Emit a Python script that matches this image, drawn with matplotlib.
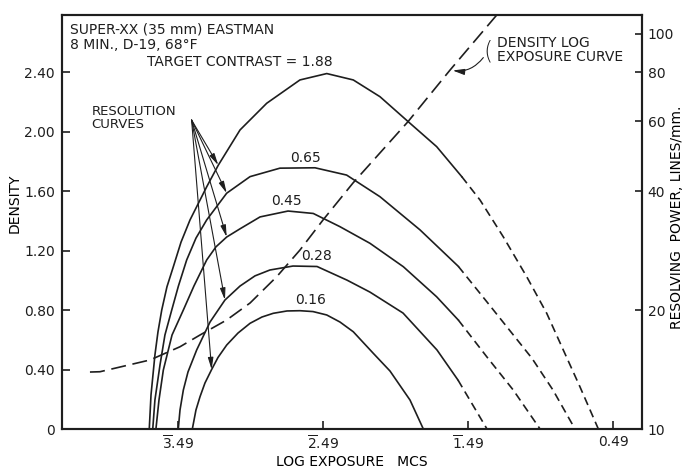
import numpy as np
import matplotlib.pyplot as plt

# density vs log exposure (dashed curve, left axis)
log_exp = [-3.117, -3.048, -2.703, -2.496, -2.358, -2.174, -2.013, -1.829,
           -1.669, -1.51, -1.303, -0.924, -0.634, -0.312, -0.28]
density = [0.383, 0.385, 0.464, 0.553, 0.632, 0.733, 0.847, 1.024,
           1.203, 1.405, 1.654, 2.066, 2.413, 2.783, 2.82]

# resolution curves (right axis, lines/mm) for each target contrast
contrast = ['1.88', '0.65', '0.45', '0.28', '0.16']
res_x = [
    [-2.708, -2.696, -2.669, -2.648, -2.622, -2.586, -2.542, -2.489, -2.427, -2.312, -2.232, -2.082,
     -1.898, -1.669, -1.484, -1.301, -1.117, -0.922, -0.726, -0.553, -0.427, -0.267, -0.105, 0.033,
     0.147, 0.262, 0.389],
    [-2.684, -2.669, -2.634, -2.600, -2.553, -2.507, -2.450, -2.386, -2.312, -2.174, -2.013, -1.807,
     -1.565, -1.347, -1.117, -0.841, -0.577, -0.358, -0.069, 0.076, 0.228],
    [-2.662, -2.641, -2.611, -2.551, -2.473, -2.400, -2.312, -2.248, -2.174, -2.082, -1.944, -1.751,
     -1.577, -1.393, -1.186, -0.956, -0.726, -0.577, -0.381, -0.198, -0.013],
    [-2.508, -2.496, -2.473, -2.441, -2.381, -2.289, -2.186, -2.082, -1.979, -1.876, -1.717, -1.551,
     -1.344, -1.186, -0.958, -0.724, -0.579, -0.379],
    [-2.411, -2.386, -2.358, -2.324, -2.278, -2.234, -2.174, -2.096, -2.013, -1.931, -1.853, -1.758,
     -1.669, -1.579, -1.484, -1.393, -1.301, -1.163, -1.048, -0.910, -0.818],
]
res_lpmm = [
    [10.0, 12.19, 15.39, 17.6, 20.0, 22.9, 25.74, 29.7, 33.8, 41.0, 46.5, 57.1,
     66.7, 76.4, 79.3, 76.4, 69.3, 59.9, 51.8, 43.5, 37.96, 30.65, 24.28, 19.62,
     15.85, 12.79, 10.0],
    [10.0, 11.84, 14.52, 17.29, 20.0, 23.0, 26.77, 30.4, 33.8, 39.5, 43.5, 45.7,
     45.8, 43.9, 38.7, 31.9, 25.8, 20.5, 15.1, 12.55, 10.0],
    [10.0, 11.84, 14.10, 17.29, 20.0, 23.0, 26.77, 28.9, 30.6, 32.1, 34.4, 35.6,
     35.1, 32.5, 29.5, 25.74, 21.6, 18.87, 15.24, 12.55, 10.0],
    [10.0, 11.17, 12.55, 13.94, 15.85, 18.65, 21.2, 23.0, 24.4, 25.25, 25.84, 25.77,
     23.8, 22.2, 19.65, 15.85, 13.3, 10.0],
    [10.0, 11.17, 12.07, 13.07, 14.14, 15.17, 16.31, 17.49, 18.51, 19.2, 19.62, 19.89,
     19.92, 19.82, 19.43, 18.65, 17.62, 15.54, 14.02, 11.84, 10.0],
]
dash_from = [-0.553, -0.577, -0.577, -0.579, None]   # extrapolated part
arrow_idx = [10, 9, 8, 6, 4]

xticks = [-2.51, -1.51, -0.51, 0.49]
xticklabels = [r'$\overline{3}$.49', r'$\overline{2}$.49', r'$\overline{1}$.49', '0.49']
dens_ticks = [0, 0.4, 0.8, 1.2, 1.6, 2.0, 2.4]
dens_labels = ['0', '0.40', '0.80', '1.20', '1.60', '2.00', '2.40']
rp_ticks = [10, 20, 40, 60, 80, 100]

ink = '#1e1e1e'
plt.rcParams['font.family'] = ['DejaVu Sans']
plt.rcParams['font.size'] = 10
plt.rcParams['text.color'] = ink

fig = plt.figure(figsize=(6.84, 4.72), dpi=100)
ax = fig.add_axes([0.0906, 0.0911, 0.848, 0.877])
ax2 = ax.twinx()

ax.set_xlim(-3.31, 0.69)
ax.set_ylim(0, 2.783)
ax2.set_yscale('log')
ax2.set_ylim(10, 111.5)

# density / log exposure curve
ax.plot(log_exp, density, color=ink, lw=1.2, dashes=(9, 4))

# resolution curves
for i, lab in enumerate(contrast):
    x = np.array(res_x[i])
    v = np.array(res_lpmm[i])
    if dash_from[i] is None:
        ax2.plot(x, v, color=ink, lw=1.2)
    else:
        s = x <= dash_from[i] + 1e-9
        d = x >= dash_from[i] - 1e-9
        ax2.plot(x[s], v[s], color=ink, lw=1.2)
        ax2.plot(x[d], v[d], color=ink, lw=1.2, dashes=(5, 3))

# peak labels
k = int(np.argmax(res_lpmm[0]))
ax2.annotate('TARGET CONTRAST = ' + contrast[0], (res_x[0][k], res_lpmm[0][k]),
             xytext=(4, 8), textcoords='offset points', ha='right', va='center')
offs = [None, (-7, 7), (-1, 7), (17, 7), (8, 8)]
for i in range(1, 5):
    k = int(np.argmax(res_lpmm[i]))
    ax2.annotate(contrast[i], (res_x[i][k], res_lpmm[i][k]), xytext=offs[i],
                 textcoords='offset points', ha='center', va='center')

# "resolution curves" pointer arrows
apex = (-2.416, 2.077)
for i, j in enumerate(arrow_idx):
    ax2.annotate('', xy=(res_x[i][j], res_lpmm[i][j]), xytext=apex, textcoords=ax.transData,
                 arrowprops=dict(arrowstyle='-|>,head_length=0.7,head_width=0.16',
                                 color=ink, lw=0.8, shrinkA=0, shrinkB=0))
ax.text(0.0512, 0.7516, 'RESOLUTION\nCURVES', transform=ax.transAxes, va='center', ha='left',
        fontsize=9.5, linespacing=0.95)

# density curve label
ax.annotate('', xy=(log_exp[12], density[12]), xytext=(24, 9), textcoords='offset points',
            arrowprops=dict(arrowstyle='-|>,head_length=0.7,head_width=0.18', color=ink,
                            lw=0.8, shrinkA=0, shrinkB=2, connectionstyle='arc3,rad=-0.3'))
ax.text(0.734, 0.913, '(', transform=ax.transAxes, va='center', ha='center', fontsize=17,
        fontweight='light')
ax.text(0.7495, 0.9155, 'DENSITY LOG\nEXPOSURE CURVE', transform=ax.transAxes, va='center',
        ha='left', linespacing=1.05)

# film notes
ax.text(0.0138, 0.964, 'SUPER-XX (35 mm) EASTMAN', transform=ax.transAxes, va='center')
ax.text(0.0138, 0.9275, '8 MIN., D-19, 68°F', transform=ax.transAxes, va='center')

# axes styling
ax.set_xticks(xticks)
ax.set_xticklabels(xticklabels)
ax.set_yticks(dens_ticks)
ax.set_yticklabels(dens_labels)
ax2.set_yticks(rp_ticks)
ax2.set_yticklabels([str(t) for t in rp_ticks])
ax2.yaxis.set_minor_locator(plt.NullLocator())

ax.tick_params(direction='in', length=6, width=1.2, colors=ink, pad=5, right=False, top=False)
ax.tick_params(axis='x', pad=4)
ax2.tick_params(direction='in', length=5, width=1.2, colors=ink, pad=4, left=False)
for a in (ax, ax2):
    for sp in a.spines.values():
        sp.set_linewidth(1.5)
        sp.set_color(ink)

ax.set_xlabel('LOG EXPOSURE   MCS')
ax.xaxis.set_label_coords(0.5, -0.0797)
ax.xaxis.label.set_va('center')
ax.set_ylabel('DENSITY')
ax.yaxis.set_label_coords(-0.081, 0.546)
ax.yaxis.label.set_va('center')
ax2.set_ylabel('RESOLVING  POWER, LINES/mm.')
ax2.yaxis.set_label_coords(1.06, 0.512)
ax2.yaxis.label.set_va('center')

fig.savefig('out.png', dpi=100)
